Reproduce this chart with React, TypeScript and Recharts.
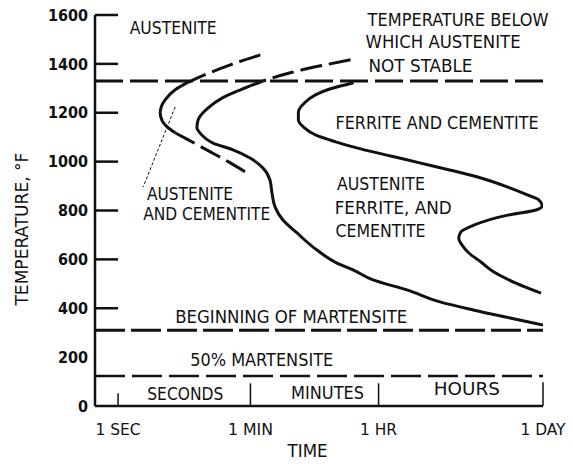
import { LineChart, Line, XAxis, YAxis, ReferenceLine, ReferenceDot } from 'recharts'

// time axis is in "divisions" (the original is only roughly logarithmic, the hours band is stretched)
const TIME_TICKS = [1.03, 6.94, 12.66, 20]
const TIME_LABELS = ['1 SEC', '1 MIN', '1 HR', '1 DAY']
const TIME_LABEL_W = [45, 45, 37, 45]
const TEMP_TICKS = [0, 200, 400, 600, 800, 1000, 1200, 1400, 1600]
const TEMP_MARKS = [400, 600, 800, 1000, 1200, 1400, 1600]
const BAND_DIVIDERS = [
  { x: 1.03, top: 52 },
  { x: 6.94, top: 93 },
  { x: 12.66, top: 93 },
  { x: 20, top: 97 },
]

const A1_TEMP = 1330 // temperature below which austenite not stable
const MS_TEMP = 310 // beginning of martensite
const M50_TEMP = 123 // 50% martensite

// left curve (austenite + cementite start)
const leftUpper = [
  { x: 7.38, t: 1437 },
  { x: 6.04, t: 1396 },
  { x: 4.79, t: 1351 },
  { x: 4.12, t: 1323 },
]
const leftSolid = [
  { x: 4.12, t: 1323 },
  { x: 3.58, t: 1294 },
  { x: 3.13, t: 1253 },
  { x: 2.91, t: 1200 },
  { x: 3.0, t: 1167 },
  { x: 3.22, t: 1142 },
  { x: 3.58, t: 1118 },
]
const leftLower = [
  { x: 3.58, t: 1118 },
  { x: 4.25, t: 1085 },
  { x: 5.15, t: 1040 },
  { x: 6.04, t: 995 },
  { x: 6.71, t: 958 },
]

// middle curve (transformation start)
const startUpper = [
  { x: 11.41, t: 1417 },
  { x: 10.07, t: 1392 },
  { x: 8.72, t: 1364 },
  { x: 7.5, t: 1330 },
]
const startSolid = [
  { x: 7.5, t: 1330 },
  { x: 6.47, t: 1293 },
  { x: 5.67, t: 1260 },
  { x: 5.04, t: 1219 },
  { x: 4.6, t: 1170 },
  { x: 4.55, t: 1138 },
  { x: 4.69, t: 1117 },
  { x: 5.27, t: 1076 },
  { x: 6.16, t: 1048 },
  { x: 6.92, t: 1015 },
  { x: 7.5, t: 974 },
  { x: 7.81, t: 925 },
  { x: 7.9, t: 872 },
  { x: 8.04, t: 814 },
  { x: 8.39, t: 761 },
  { x: 9.02, t: 708 },
  { x: 9.91, t: 638 },
  { x: 10.8, t: 585 },
  { x: 11.52, t: 557 },
  { x: 12.41, t: 516 },
  { x: 13.93, t: 475 },
  { x: 15.4, t: 426 },
  { x: 16.88, t: 393 },
  { x: 18.53, t: 360 },
  { x: 20, t: 331 },
]

// right curve (transformation finish)
const finishSolid = [
  { x: 11.54, t: 1323 },
  { x: 10.51, t: 1298 },
  { x: 9.84, t: 1273 },
  { x: 9.35, t: 1240 },
  { x: 9.08, t: 1203 },
  { x: 9.08, t: 1170 },
  { x: 9.35, t: 1138 },
  { x: 9.84, t: 1109 },
  { x: 10.74, t: 1081 },
  { x: 11.86, t: 1052 },
  { x: 13.2, t: 1023 },
  { x: 14.54, t: 994 },
  { x: 15.88, t: 965 },
  { x: 17.23, t: 933 },
  { x: 18.43, t: 896 },
  { x: 19.33, t: 863 },
  { x: 19.82, t: 843 },
  { x: 19.96, t: 818 },
  { x: 19.69, t: 802 },
  { x: 18.43, t: 781 },
  { x: 16.91, t: 740 },
  { x: 16.33, t: 712 },
  { x: 16.24, t: 686 },
  { x: 16.42, t: 654 },
  { x: 16.69, t: 626 },
  { x: 17.23, t: 589 },
  { x: 17.81, t: 548 },
  { x: 18.79, t: 503 },
  { x: 19.91, t: 462 },
]

const leader = [
  { x: 3.58, t: 1224 },
  { x: 2.15, t: 896 },
]

const NOTES = [
  { x: 3.49, t: 1548, text: 'AUSTENITE', anchor: 'middle', w: 87 },
  { x: 12.17, t: 1581, text: 'TEMPERATURE BELOW', anchor: 'start', w: 181 },
  { x: 12.08, t: 1491, text: 'WHICH AUSTENITE', anchor: 'start', w: 155 },
  { x: 12.21, t: 1392, text: 'NOT STABLE', anchor: 'start', w: 104 },
  { x: 10.74, t: 1159, text: 'FERRITE AND CEMENTITE', anchor: 'start', w: 203 },
  { x: 10.8, t: 909, text: 'AUSTENITE', anchor: 'start', w: 88 },
  { x: 10.7, t: 814, text: 'FERRITE,  AND', anchor: 'start', w: 117 },
  { x: 10.74, t: 720, text: 'CEMENTITE', anchor: 'start', w: 90 },
  { x: 2.32, t: 868, text: 'AUSTENITE', anchor: 'start', w: 86 },
  { x: 2.15, t: 786, text: 'AND CEMENTITE', anchor: 'start', w: 127 },
  { x: 3.58, t: 367, text: 'BEGINNING OF MARTENSITE', anchor: 'start', w: 232 },
  { x: 4.25, t: 191, text: '50% MARTENSITE', anchor: 'start', w: 143 },
  { x: 4.03, t: 52, text: 'SECONDS', anchor: 'middle', w: 76 },
  { x: 10.38, t: 56, text: 'MINUTES', anchor: 'middle', w: 73 },
  { x: 16.6, t: 72, text: 'HOURS', anchor: 'middle', w: 66 },
  { x: 9.49, t: -182, text: 'TIME', anchor: 'middle', w: 40 },
]

const FONT = '"DejaVu Sans Condensed", "Liberation Sans Narrow", "DejaVu Sans", sans-serif'
const INK = '#111'

const TimeTick = (props: any) => {
  const { x, y, index } = props
  return (
    <text
      x={x}
      y={y + 27}
      textAnchor="middle"
      fontFamily={FONT}
      fontSize={16}
      fill={INK}
      textLength={TIME_LABEL_W[index]}
      lengthAdjust="spacingAndGlyphs"
      style={{ fontStretch: 'condensed' }}
    >
      {TIME_LABELS[index]}
    </text>
  )
}

const noteShape = (text: string, anchor: string, w: number, rotate = false) => (p: any) => (
  <text
    x={p.cx}
    y={p.cy}
    textAnchor={anchor}
    dominantBaseline="central"
    fontFamily={FONT}
    fontSize={18}
    fill={INK}
    textLength={w}
    lengthAdjust="spacingAndGlyphs"
    style={{ fontStretch: 'condensed' }}
    transform={rotate ? `rotate(-90 ${p.cx} ${p.cy})` : undefined}
  >
    {text}
  </text>
)

const curve = (data: { x: number; t: number }[], key: string, dashed?: string, width = 3) => (
  <Line
    key={key}
    data={data}
    dataKey="t"
    type="monotoneY"
    stroke={INK}
    strokeWidth={width}
    strokeDasharray={dashed}
    dot={false}
    activeDot={false}
    isAnimationActive={false}
  />
)

export default function App() {
  return (
    <div style={{ position: 'absolute', left: 0, top: 0, background: '#fff' }}>
      <LineChart width={573} height={464} margin={{ top: 15, right: 30, left: 0, bottom: 0 }}>
        <XAxis
          type="number"
          dataKey="x"
          domain={[0, 20]}
          ticks={TIME_TICKS}
          allowDataOverflow
          height={58}
          tickLine={false}
          tickSize={0}
          tick={<TimeTick />}
          axisLine={{ stroke: INK, strokeWidth: 2.5 }}
        />
        <YAxis
          type="number"
          domain={[0, 1600]}
          ticks={TEMP_TICKS}
          width={95}
          tickLine={false}
          tickSize={0}
          tickMargin={7}
          tick={{ fill: INK, fontSize: 16, fontWeight: 'bold', fontFamily: FONT, style: { fontStretch: 'condensed' } }}
          axisLine={{ stroke: INK, strokeWidth: 2.5 }}
        />

        {TEMP_MARKS.map((v) => (
          <ReferenceLine key={'m' + v} segment={[{ x: 0, y: v }, { x: TIME_TICKS[0], y: v }]} stroke={INK} strokeWidth={2.5} />
        ))}
        {BAND_DIVIDERS.map((d) => (
          <ReferenceLine key={'d' + d.x} segment={[{ x: d.x, y: 0 }, { x: d.x, y: d.top }]} stroke={INK} strokeWidth={1.5} />
        ))}

        <ReferenceLine y={A1_TEMP} stroke={INK} strokeWidth={3} strokeDasharray="28 7" />
        <ReferenceLine y={MS_TEMP} stroke={INK} strokeWidth={3} strokeDasharray="30 6" />
        <ReferenceLine y={M50_TEMP} stroke={INK} strokeWidth={2.5} strokeDasharray="30 7" />

        {curve(leftUpper, 'lu', '22 7')}
        {curve(leftSolid, 'ls')}
        {curve(leftLower, 'll', '22 7')}
        {curve(startUpper, 'su', '22 7')}
        {curve(startSolid, 'ss')}
        {curve(finishSolid, 'fs')}
        {curve(leader, 'ld', '3 2', 1)}

        {NOTES.map((n) => (
          <ReferenceDot
            key={n.text + n.t}
            x={n.x}
            y={n.t}
            r={0}
            ifOverflow="visible"
            shape={noteShape(n.text, n.anchor, n.w)}
          />
        ))}
        <ReferenceDot x={-3.27} y={724} r={0} ifOverflow="visible" shape={noteShape('TEMPERATURE, °F', 'middle', 153, true)} />
      </LineChart>
    </div>
  )
}
